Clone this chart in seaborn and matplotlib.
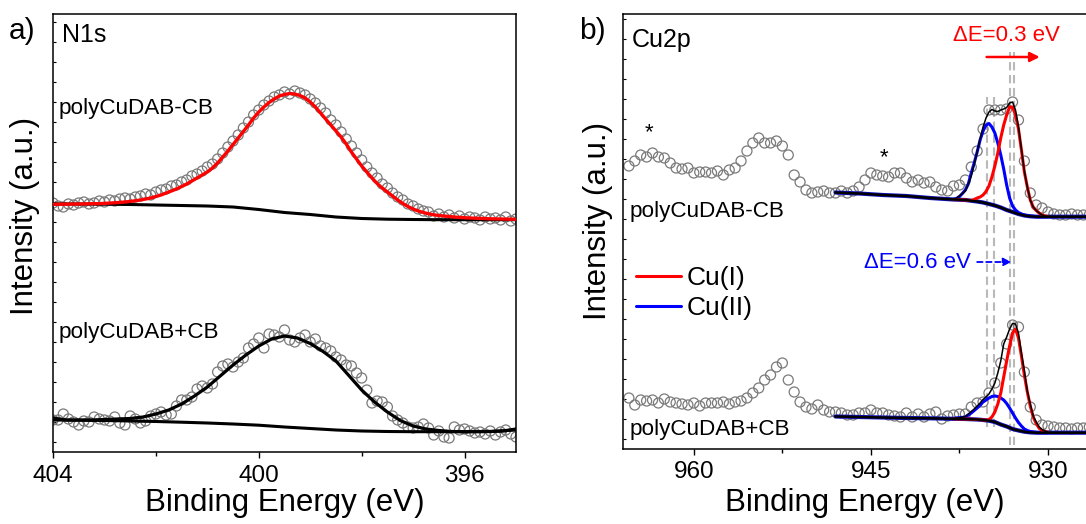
import numpy as np
import matplotlib
matplotlib.use("Agg")
import matplotlib.pyplot as plt
from matplotlib.lines import Line2D
import seaborn as sns

# ---------------- Panel a : N1s (intensity in arbitrary units) ----------------
n1s_start, n1s_step = 404.0, 0.1
n1s_minus_data = [249, 246, 245, 248, 247, 249, 250, 248, 249, 251,
                  250, 252, 251, 253, 254, 253, 255, 256, 258, 257,
                  260, 262, 263, 266, 267, 270, 272, 276, 278, 281,
                  285, 288, 293, 299, 305, 311, 317, 324, 330, 337,
                  342, 347, 351, 355, 357, 360, 358, 361, 359, 357,
                  353, 349, 344, 339, 332, 327, 320, 313, 306, 299,
                  292, 285, 279, 274, 268, 264, 259, 255, 252, 248,
                  246, 243, 241, 240, 236, 238, 235, 237, 234, 236,
                  233, 235, 234, 232, 235, 233, 234, 232, 235, 231,
                  233]
n1s_minus_fit = [247.7, 247.8, 247.8, 247.9, 248.0, 248.0, 248.1, 248.2, 248.3, 248.4,
                 248.6, 248.9, 249.2, 249.6, 250.0, 250.6, 251.2, 252.0, 253.0, 254.0,
                 255.5, 257.0, 259.0, 261.0, 263.0, 265.5, 268.0, 271.0, 274.0, 277.0,
                 280.0, 284.0, 289.0, 295.0, 301.0, 307.5, 314.0, 320.5, 327.0, 334.0,
                 340.0, 345.0, 349.5, 353.0, 356.0, 357.5, 358.5, 358.0, 356.5, 354.0,
                 350.0, 345.0, 339.0, 333.0, 327.0, 321.0, 315.0, 308.0, 300.0, 293.0,
                 286.0, 280.0, 274.0, 268.5, 264.0, 260.0, 256.0, 252.0, 248.5, 245.5,
                 243.0, 241.0, 239.5, 238.2, 237.2, 236.5, 236.0, 235.5, 235.0, 234.6,
                 234.3, 234.0, 233.8, 233.6, 233.4, 233.2, 233.1, 233.0, 232.9, 232.8,
                 232.7]
n1s_bg_energy = [404.0, 403.5, 403.0, 402.5, 402.0, 401.5, 401.0, 400.5, 400.0, 399.5,
                 399.0, 398.5, 398.0, 397.5, 397.0, 396.5, 396.0, 395.5, 395.0]
n1s_minus_bg = [248, 248, 247.8, 247.5, 247, 246.5, 246, 245, 242.5, 239.5,
                237.5, 235, 233.5, 232.8, 232.5, 232.3, 232.3, 232.3, 232.3]

n1s_plus_data = [32, 32, 38, 33, 30, 27, 31, 30, 35, 33,
                 32, 31, 35, 29, 27, 36, 33, 29, 31, 36,
                 38, 40, 37, 38, 46, 52, 52, 55, 63, 66,
                 64, 68, 80, 86, 88, 85, 90, 94, 104, 108,
                 114, 104, 118, 117, 115, 122, 112, 110, 114, 117,
                 110, 113, 106, 104, 101, 95, 92, 87, 86, 79,
                 74, 62, 49, 51, 50, 45, 36, 32, 29, 25,
                 24, 25, 28, 24, 17, 21, 15, 14, 25, 22,
                 23, 21, 19, 20, 18, 21, 17, 20, 22, 18,
                 15]
n1s_plus_fit_energy = [404.0, 403.75, 403.5, 403.25, 403.0, 402.75, 402.5, 402.25, 402.0, 401.75,
                       401.5, 401.25, 401.0, 400.75, 400.5, 400.25, 400.0, 399.75, 399.5, 399.25,
                       399.0, 398.75, 398.5, 398.25, 398.0, 397.75, 397.5, 397.25, 397.0, 396.75,
                       396.5, 396.25, 396.0, 395.75, 395.5, 395.25, 395.0]
n1s_plus_fit = [34, 32, 32, 32, 32.5, 33, 33.5, 35, 38, 42,
                48, 56, 65, 76, 87, 97, 106, 113, 116, 114,
                108.5, 100.5, 91, 76.5, 62, 50, 40, 31.5, 26, 23,
                21.5, 20.5, 20.3, 20.3, 20.5, 21, 23]
n1s_plus_bg = [32, 31.8, 31.5, 31, 30.5, 29.8, 29, 28, 26.8, 25,
               23.5, 22, 21, 20.5, 20.3, 20.3, 20.3, 20.5, 22]

# ---------------- Panel b : Cu2p ----------------
cu_start, cu_step = 965.5, 0.5
cu_minus_data = [283, 288, 294, 292, 296, 292, 291, 286, 281, 280,
                 281, 276, 277, 277, 276, 278, 274, 279, 281, 288,
                 298, 306, 311, 306, 306, 308, 303, 294, 274, 267,
                 259, 256, 257, 258, 256, 256, 258, 256, 258, 262,
                 269, 276, 274, 273, 272, 276, 276, 271, 267, 269,
                 266, 267, 262, 259, 258, 263, 264, 269, 282, 298,
                 320, 339, 339, 339, 340, 347, 329, 288, 256, 244,
                 241, 237, 235, 234, 234, 235, 234, 234, 234]
cu_plus_data = [51, 44, 49, 48, 49, 46, 50, 47, 46, 45,
                44, 46, 43, 46, 46, 46, 47, 45, 47, 48,
                51, 56, 61, 69, 74, 82, 86, 69, 57, 47,
                42, 40, 44, 39, 37, 37, 36, 34, 34, 36,
                36, 39, 36, 36, 34, 33, 32, 36, 32, 35,
                32, 35, 37, 30, 33, 34, 35, 35, 42, 46,
                47, 56, 66, 86, 105, 124, 122, 77, 42, 29,
                24, 23, 22, 21, 21, 20, 21, 21, 22]
cu_bg_energy = [948, 946, 944, 942, 940, 938, 937, 936, 935.5, 935, 934.5, 934,
                933.5, 933, 932.5, 932, 931.5, 931, 930, 928, 926, 924.5]
cu_minus_bg = [256.5, 255.5, 254, 253, 251, 249.5, 249, 247.5, 246.5, 245, 243.5, 241.5,
               239, 237, 235, 233.5, 232.7, 232.3, 232.3, 232.3, 232.3, 232.3]
cu_plus_bg = [32.5, 32, 31.5, 31, 30.7, 30.2, 30, 29.5, 29, 28.3, 27, 24.5,
              22.5, 20, 18.5, 17.3, 16.6, 16.3, 16.3, 16.3, 16.3, 16.3]

cu_peak_energy = [938.0, 937.75, 937.5, 937.25, 937.0, 936.75, 936.5, 936.25, 936.0, 935.75,
                  935.5, 935.25, 935.0, 934.75, 934.5, 934.25, 934.0, 933.75, 933.5, 933.25,
                  933.0, 932.75, 932.5, 932.25, 932.0, 931.75, 931.5, 931.25, 931.0, 930.75,
                  930.5, 930.25, 930.0]
cu_minus_cu2 = [249.6, 250.5, 252.5, 255.5, 259, 265, 276, 286, 297, 309,
                318, 324, 325.5, 322, 316, 306, 294, 280, 264, 251,
                243, 239, 236.5, 235, 234, 233.3, 233, 232.6, 232.4, 232.3,
                232.3, 232.3, 232.3]
cu_minus_cu1 = [249.5, 249.4, 249.3, 249.2, 249, 248.7, 248.5, 249.5, 251, 252,
                254, 257.5, 263, 272, 283, 296, 311, 324, 334, 342,
                342, 334, 320, 299, 277, 262, 249, 242, 238.5, 236,
                234, 233, 232.5]
cu_minus_env = [249.8, 251, 253, 255.5, 258, 265, 273, 285, 297, 310,
                322, 331, 337, 339.5, 338, 337.5, 339, 340, 341.5, 346,
                347, 339, 322, 300, 278, 262, 249, 242, 238.5, 236,
                234, 233, 232.5]
cu_plus_cu2 = [30.5, 31, 31.3, 31.6, 32, 34, 36, 38.5, 41, 44,
               47, 49, 51, 52.5, 53, 52.5, 51, 49, 45.5, 41,
               36, 31, 26.5, 23, 20, 18.5, 17.5, 17, 16.6, 16.4,
               16.3, 16.3, 16.3]
cu_plus_cu1 = [30.2, 30.1, 30, 30, 30, 29.9, 29.8, 29.6, 29.5, 29.3,
               29, 28.8, 29.5, 32, 37, 45, 56, 72, 88, 103,
               116, 120, 111, 93, 74, 57, 43, 32, 25.5, 21,
               18.5, 17.2, 16.6]
cu_plus_env = [30.5, 31, 31.3, 31.8, 32.5, 35, 37.5, 40, 43, 46,
               49.5, 52, 55, 60, 66, 76, 88, 105, 112, 120,
               125.5, 125, 116, 96, 78, 58, 45, 33, 27, 22,
               19.5, 17.8, 17]

cu2_positions = [935.2, 934.6]   # Cu(II) peak positions (CB-, CB+)
cu1_positions = [933.2, 932.9]   # Cu(I) peak positions (CB-, CB+)

# ---------------- style ----------------
sns.set_style("ticks")
plt.rcParams["font.family"] = ["Liberation Sans", "DejaVu Sans"]
plt.rcParams["axes.linewidth"] = 1.1
for key in ["text.color", "axes.labelcolor", "xtick.color", "ytick.color", "axes.edgecolor"]:
    plt.rcParams[key] = "black"

W, H = 1086, 524
fig = plt.figure(figsize=(W / 100, H / 100), dpi=100)
axa = fig.add_axes([53 / W, (H - 452) / H, 463 / W, 438 / H])
axb = fig.add_axes([623 / W, (H - 449) / H, 484 / W, 435 / H])

MK = dict(marker="o", s=52, facecolor="none", edgecolor="#7a7a7a", linewidth=0.9, zorder=2)

# ----- panel a -----
e_n1s_m = n1s_start - n1s_step * np.arange(len(n1s_minus_data))
e_n1s_p = n1s_start - n1s_step * np.arange(len(n1s_plus_data))
sns.scatterplot(x=e_n1s_m, y=n1s_minus_data, ax=axa, **MK)
sns.scatterplot(x=e_n1s_p, y=n1s_plus_data, ax=axa, **MK)
sns.lineplot(x=n1s_bg_energy, y=n1s_minus_bg, ax=axa, color="black", lw=2.2, estimator=None, zorder=3)
sns.lineplot(x=e_n1s_m, y=n1s_minus_fit, ax=axa, color="#ff0000", lw=2.4, estimator=None, zorder=4)
sns.lineplot(x=n1s_bg_energy, y=n1s_plus_bg, ax=axa, color="black", lw=2.2, estimator=None, zorder=3)
sns.lineplot(x=n1s_plus_fit_energy, y=n1s_plus_fit, ax=axa, color="black", lw=2.3, estimator=None, zorder=4)

axa.set_xlim(404, 395)
axa.set_ylim(0, 438)
axa.set_xticks([404, 400, 396])
axa.set_xticks([402, 398], minor=True)
axa.text(0.019, 0.952, "N1s", transform=axa.transAxes, fontsize=18, va="center", ha="left")
axa.text(0.011, 0.785, "polyCuDAB-CB", transform=axa.transAxes, fontsize=16.2, va="center", ha="left")
axa.text(0.011, 0.272, "polyCuDAB+CB", transform=axa.transAxes, fontsize=16.2, va="center", ha="left")

# ----- panel b -----
e_cu_m = cu_start - cu_step * np.arange(len(cu_minus_data))
e_cu_p = cu_start - cu_step * np.arange(len(cu_plus_data))

for xpos in cu2_positions:
    axb.vlines(xpos, 22, 352, colors="#b9b9b9", linestyles=(0, (4, 2.2)), lw=1.5, zorder=1)
for xpos in cu1_positions:
    axb.vlines(xpos, 4, 397, colors="#b9b9b9", linestyles=(0, (4, 2.2)), lw=1.5, zorder=1)

sns.scatterplot(x=e_cu_m, y=cu_minus_data, ax=axb, **MK)
sns.scatterplot(x=e_cu_p, y=cu_plus_data, ax=axb, **MK)

for bg, cu2, cu1, env in [(cu_minus_bg, cu_minus_cu2, cu_minus_cu1, cu_minus_env),
                          (cu_plus_bg, cu_plus_cu2, cu_plus_cu1, cu_plus_env)]:
    sns.lineplot(x=cu_bg_energy, y=bg, ax=axb, color="#1010c0", lw=3.0, estimator=None, zorder=3)
    sns.lineplot(x=cu_peak_energy, y=cu2, ax=axb, color="#0000ff", lw=2.2, estimator=None, zorder=4)
    sns.lineplot(x=cu_peak_energy, y=cu1, ax=axb, color="#ff0000", lw=2.2, estimator=None, zorder=4)
    sns.lineplot(x=cu_bg_energy, y=bg, ax=axb, color="black", lw=1.8, estimator=None, zorder=5)
    sns.lineplot(x=cu_peak_energy, y=env, ax=axb, color="black", lw=1.1, estimator=None, zorder=6)

axb.set_xlim(966, 925)
axb.set_ylim(0, 435)
axb.set_xticks([960, 945, 930])
axb.set_xticks([952.5, 937.5], minor=True)

axb.text(0.019, 0.940, "Cu2p", transform=axb.transAxes, fontsize=18, va="center", ha="left")
axb.text(0.0145, 0.545, "polyCuDAB-CB", transform=axb.transAxes, fontsize=16.2, va="center", ha="left")
axb.text(0.0145, 0.044, "polyCuDAB+CB", transform=axb.transAxes, fontsize=16.2, va="center", ha="left")
axb.text(963.8, 316, "*", fontsize=16, ha="center", va="center")
axb.text(943.9, 291, "*", fontsize=16, ha="center", va="center")

axb.text(933.56, 414, "ΔE=0.3 eV", color="#ff0000", fontsize=16, ha="center", va="center")
axb.annotate("", xy=(930.7, 392), xytext=(935.2, 392),
             arrowprops=dict(arrowstyle="-|>", color="#ff0000", lw=1.8, mutation_scale=14,
                             shrinkA=0, shrinkB=0))
axb.text(941.1, 187, "ΔE=0.6 eV", color="#0000ff", fontsize=16, ha="center", va="center")
axb.annotate("", xy=(933.1, 187), xytext=(936.0, 187),
             arrowprops=dict(arrowstyle="-|>", color="#0000ff", lw=1.3, mutation_scale=12,
                             linestyle=(0, (3, 2)), shrinkA=0, shrinkB=0))

handles = [Line2D([], [], color="#ff0000", lw=2.2), Line2D([], [], color="#0000ff", lw=2.2)]
axb.legend(handles, ["Cu(I)", "Cu(II)"], loc="upper left", bbox_to_anchor=((636 - 623) / 484, (449 - 266) / 435),
           frameon=False, fontsize=19, handlelength=1.7, handletextpad=0.2, labelspacing=0.22,
           borderpad=0, borderaxespad=0)

# ----- common axis formatting -----
for ax, lab_x, lab_y in [(axa, -0.028, 0.539), (axb, -0.021, 0.524)]:
    ax.set_ylabel("Intensity (a.u.)", fontsize=22.5)
    ax.set_xlabel("Binding Energy (eV)", fontsize=22.5)
    ax.yaxis.set_label_coords(lab_x, lab_y)
    ax.set_yticks(np.arange(10, 431, 20))
    ax.tick_params(axis="y", which="both", direction="in", length=2.5, width=0.8, labelleft=False)
    ax.tick_params(axis="x", which="major", direction="out", length=4, width=1, labelsize=17.5, pad=5)
    ax.tick_params(axis="x", which="minor", direction="out", length=3, width=1)
    for sp in ax.spines.values():
        sp.set_visible(True)
        sp.set_color("black")
axa.xaxis.set_label_coords(0.5, -0.082)
axb.xaxis.set_label_coords(0.5, -0.090)

fig.text(9 / W, 1 - 31 / H, "a)", fontsize=21.5, va="center", ha="left")
fig.text(579 / W, 1 - 31 / H, "b)", fontsize=21.5, va="center", ha="left")

fig.savefig("out.png", dpi=100)
